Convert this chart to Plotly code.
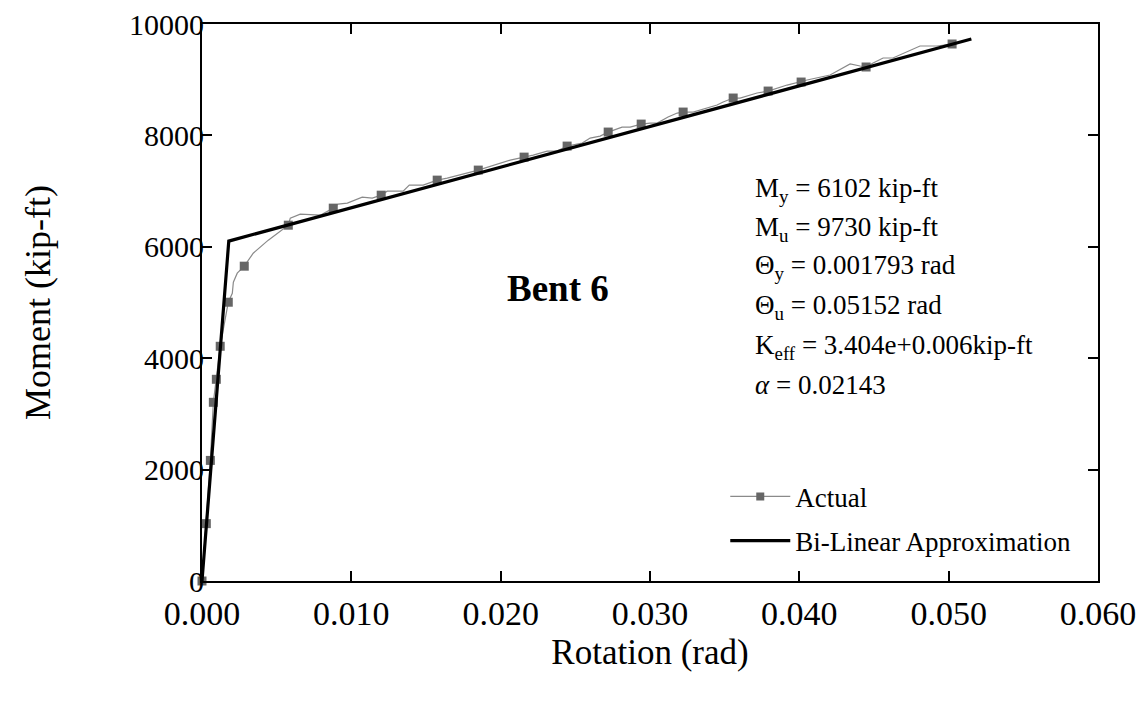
import plotly.graph_objects as go

# Actual moment-rotation curve (marker points)
marker_rot = [0.0, 0.00029, 0.00056, 0.00076, 0.00096, 0.00122, 0.00176, 0.00283,
              0.00578, 0.00879, 0.01200, 0.01575, 0.01850, 0.02157, 0.02445,
              0.02720, 0.02941, 0.03222, 0.03557, 0.03791, 0.04012, 0.04447, 0.05023]
marker_mom = [0, 1030, 2165, 3208, 3621, 4214, 5005, 5652,
              6388, 6694, 6927, 7197, 7377, 7610, 7808,
              8060, 8203, 8419, 8671, 8796, 8958, 9228, 9641]

# Actual curve, full traced line (including intermediate vertices between markers)
actual_rot = [0.0, 0.00029, 0.00056, 0.00076, 0.00096, 0.00122, 0.00176,
              0.00203, 0.00210, 0.00236, 0.00283,
              0.00343, 0.00444, 0.00538, 0.00578,
              0.00591, 0.00658, 0.00792, 0.00879,
              0.00912, 0.00973, 0.01073, 0.01140, 0.01200,
              0.01240, 0.01347, 0.01388, 0.01481, 0.01575,
              0.01642, 0.01716, 0.01850,
              0.02064, 0.02157,
              0.02218, 0.02311, 0.02378, 0.02445,
              0.02546, 0.02599, 0.02666, 0.02720,
              0.02813, 0.02867, 0.02941,
              0.03001, 0.03048, 0.03121, 0.03182, 0.03222,
              0.03289, 0.03449, 0.03490, 0.03557,
              0.03603, 0.03717, 0.03791,
              0.03918, 0.04012,
              0.04052, 0.04206, 0.04340, 0.04407, 0.04447,
              0.04494, 0.04561, 0.04627, 0.04808, 0.04922, 0.05023]
actual_mom = [0, 1030, 2165, 3208, 3621, 4214, 5005,
              5166, 5364, 5526, 5652,
              5885, 6119, 6298, 6388,
              6514, 6586, 6568, 6694,
              6766, 6784, 6892, 6874, 6927,
              6999, 6999, 7107, 7107, 7197,
              7233, 7287, 7377,
              7556, 7610,
              7646, 7718, 7718, 7808,
              7862, 7952, 7988, 8060,
              8149, 8149, 8203,
              8221, 8221, 8329, 8401, 8419,
              8419, 8545, 8599, 8671,
              8671, 8761, 8796,
              8904, 8958,
              8994, 9084, 9282, 9246, 9228,
              9300, 9390, 9390, 9605, 9605, 9641]

# Bi-linear approximation
bilin_rot = [0.0, 0.001793, 0.05152]
bilin_mom = [0, 6102, 9730]

x_ticks = [0.0, 0.01, 0.02, 0.03, 0.04, 0.05, 0.06]
y_ticks = [0, 2000, 4000, 6000, 8000, 10000]

info_lines = [
    "M<sub>y</sub> = 6102 kip-ft",
    "M<sub>u</sub> = 9730 kip-ft",
    "Θ<sub>y</sub> = 0.001793 rad",
    "Θ<sub>u</sub> = 0.05152 rad",
    "K<sub>eff</sub> = 3.404e+0.006kip-ft",
    "<i>α</i> = 0.02143",
]
info_x = 0.0369
info_y = [7017, 6317, 5634, 4915, 4196, 3513]

FONT = "Liberation Serif, Times New Roman, serif"
GRAY_LINE = "#8a8a8a"
GRAY_MARK = "#666666"

fig = go.Figure()

# legend-only entry for Actual
fig.add_trace(go.Scatter(
    x=[None], y=[None], mode="lines+markers", name="Actual", legendgroup="a",
    line=dict(color=GRAY_LINE, width=1.2),
    marker=dict(symbol="square", size=8, color=GRAY_MARK),
))
fig.add_trace(go.Scatter(
    x=actual_rot, y=actual_mom, mode="lines", showlegend=False, legendgroup="a",
    line=dict(color=GRAY_LINE, width=1.2), hoverinfo="skip",
))
fig.add_trace(go.Scatter(
    x=marker_rot, y=marker_mom, mode="markers", showlegend=False, legendgroup="a",
    marker=dict(symbol="square", size=9, color=GRAY_MARK),
    cliponaxis=False,
))
fig.add_trace(go.Scatter(
    x=bilin_rot, y=bilin_mom, mode="lines", name="Bi-Linear Approximation",
    legendgroup="b",
    line=dict(color="black", width=3.2),
))

for txt, yy in zip(info_lines, info_y):
    fig.add_annotation(
        x=info_x, y=yy, xref="x", yref="y", showarrow=False,
        text=txt, align="left", xanchor="left", yanchor="middle",
        font=dict(family=FONT, size=27, color="black"),
    )

fig.add_annotation(
    x=0.02385, y=5256, xref="x", yref="y", showarrow=False,
    text="<b>Bent 6</b>", font=dict(family=FONT, size=37, color="black"),
)

# page body adds an 8px offset; compensate so the plot area sits at
# x 202..1098, y 24..581 in the 1147x703 window
fig.update_layout(
    width=1139, height=695,
    paper_bgcolor="white", plot_bgcolor="white",
    margin=dict(l=194, r=49, t=16, b=122),
    font=dict(family=FONT, color="black"),
    showlegend=True,
    legend=dict(
        x=0.584, y=0.195, xanchor="left", yanchor="top",
        bgcolor="rgba(0,0,0,0)", borderwidth=0,
        font=dict(family=FONT, size=27, color="black"),
        tracegroupgap=6, itemwidth=60,
    ),
)

fig.update_xaxes(
    range=[0, 0.06], tickvals=x_ticks, tickformat=".3f",
    showgrid=False, zeroline=False, automargin=False,
    showline=True, linecolor="black", linewidth=2, mirror="ticks",
    ticks="inside", ticklen=10, tickwidth=1.5, tickcolor="black",
    ticklabelstandoff=1, ticklabeloverflow="allow",
    tickfont=dict(family=FONT, size=34, color="black"),
    title=dict(text="Rotation (rad)", font=dict(family=FONT, size=35, color="black"), standoff=9),
)
fig.update_yaxes(
    range=[0, 10000], tickvals=y_ticks, tickformat="d",
    showgrid=False, zeroline=False, automargin=False,
    showline=True, linecolor="black", linewidth=2, mirror="ticks",
    ticks="inside", ticklen=10, tickwidth=1.5, tickcolor="black",
    ticklabelstandoff=-10, ticklabeloverflow="allow",
    tickfont=dict(family=FONT, size=30, color="black"),
    title=dict(text="Moment (kip-ft)", font=dict(family=FONT, size=36, color="black"), standoff=67),
)

fig.write_html("out.html")
